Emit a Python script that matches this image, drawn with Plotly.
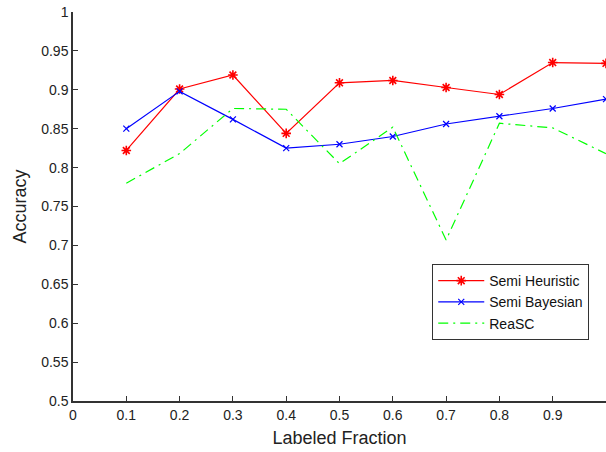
import plotly.graph_objects as go

x_vals = [0.1, 0.2, 0.3, 0.4, 0.5, 0.6, 0.7, 0.8, 0.9, 1.0]
semi_heuristic = [0.822, 0.901, 0.919, 0.844, 0.909, 0.912, 0.903, 0.894, 0.935, 0.934]
semi_bayesian = [0.850, 0.898, 0.862, 0.825, 0.830, 0.840, 0.856, 0.866, 0.876, 0.888]
reasc = [0.780, 0.818, 0.876, 0.875, 0.805, 0.852, 0.707, 0.857, 0.851, 0.818]

x_ticks = [0, 0.1, 0.2, 0.3, 0.4, 0.5, 0.6, 0.7, 0.8, 0.9]
x_tick_labels = ["0", "0.1", "0.2", "0.3", "0.4", "0.5", "0.6", "0.7", "0.8", "0.9"]
y_ticks = [0.5, 0.55, 0.6, 0.65, 0.7, 0.75, 0.8, 0.85, 0.9, 0.95, 1.0]
y_tick_labels = ["0.5", "0.55", "0.6", "0.65", "0.7", "0.75", "0.8", "0.85", "0.9", "0.95", "1"]

FONT = "Liberation Sans, Arial, sans-serif"

fig = go.Figure()
fig.add_trace(go.Scatter(
    x=x_vals, y=semi_heuristic, name="Semi Heuristic", mode="lines+markers",
    line=dict(color="#ff0000", width=1.2),
    marker=dict(symbol="asterisk-open", size=8, color="#ff0000", line=dict(color="#ff0000", width=1.6)),
    cliponaxis=False,
))
fig.add_trace(go.Scatter(
    x=x_vals, y=semi_bayesian, name="Semi Bayesian", mode="lines+markers",
    line=dict(color="#0000ff", width=1.2),
    marker=dict(symbol="x-thin-open", size=6, color="#0000ff", line=dict(color="#0000ff", width=1.2)),
    cliponaxis=False,
))
fig.add_trace(go.Scatter(
    x=x_vals, y=reasc, name="ReaSC", mode="lines",
    line=dict(color="#00ff00", width=1.2, dash="10px,5px,2px,5px"),
))

axis_font = dict(family=FONT, size=14, color="#222222")
fig.update_layout(
    width=606, height=452,
    margin=dict(l=73, r=0, t=12, b=51),
    paper_bgcolor="white", plot_bgcolor="white",
    font=dict(family=FONT, size=14, color="#222222"),
    showlegend=True,
    legend=dict(
        x=0.674, y=0.352, xanchor="left", yanchor="top",
        bordercolor="#333333", borderwidth=1, bgcolor="white",
        font=dict(family=FONT, size=14, color="#111111"),
        tracegroupgap=0, itemwidth=46,
    ),
    xaxis=dict(
        range=[0, 1], tickvals=x_ticks, ticktext=x_tick_labels,
        ticks="inside", ticklen=5, tickcolor="#333333",
        showline=True, linecolor="#333333", linewidth=1.5,
        showgrid=False, zeroline=False, tickfont=axis_font,
        title=dict(text="Labeled Fraction", font=dict(size=18, family=FONT, color="#222222"), standoff=10),
    ),
    yaxis=dict(
        range=[0.5, 1], tickvals=y_ticks, ticktext=y_tick_labels,
        ticks="inside", ticklen=5, tickcolor="#333333",
        showline=True, linecolor="#333333", linewidth=1.5,
        showgrid=False, zeroline=False, tickfont=axis_font,
        title=dict(text="Accuracy", font=dict(size=18, family=FONT, color="#222222"), standoff=10),
    ),
)

fig.write_html("out.html")
